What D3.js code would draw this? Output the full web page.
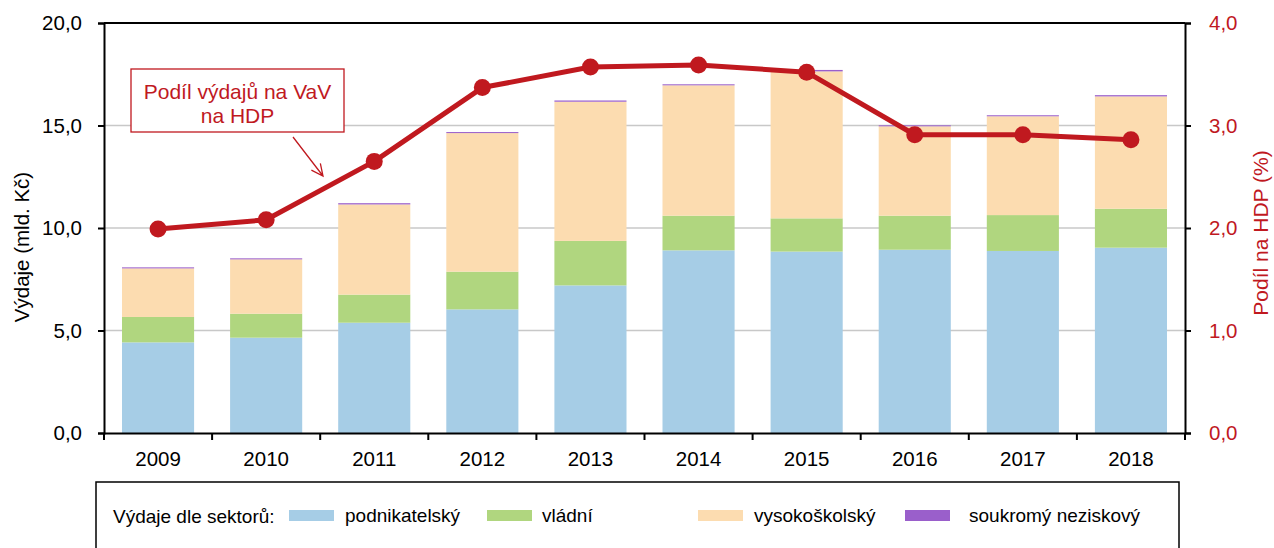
<!DOCTYPE html>
<html>
<head>
<meta charset="utf-8">
<script src="https://cdn.jsdelivr.net/npm/d3@7"></script>
<style>
  body { margin: 0; background: #fff; }
  svg { display: block; font-family: "Liberation Sans", Arial, sans-serif; }
</style>
</head>
<body>
<div id="chart"></div>
<script>
// Data
const years = ["2009", "2010", "2011", "2012", "2013", "2014", "2015", "2016", "2017", "2018"];
const podnikatelsky = [4.42, 4.65, 5.38, 6.03, 7.20, 8.91, 8.85, 8.94, 8.88, 9.04];
const vladni        = [1.24, 1.17, 1.37, 1.84, 2.17, 1.69, 1.62, 1.66, 1.75, 1.90];
const vysokoskolsky = [2.37, 2.65, 4.40, 6.76, 6.79, 6.36, 7.17, 4.36, 4.82, 5.48];
const soukromy      = [0.05, 0.05, 0.06, 0.05, 0.06, 0.05, 0.07, 0.05, 0.05, 0.06];
const podilHDP      = [1.99, 2.08, 2.65, 3.37, 3.57, 3.59, 3.52, 2.91, 2.91, 2.86];

const leftTicks = [0, 5, 10, 15, 20];
const rightTicks = [0, 1, 2, 3, 4];

const subgroups = ["podnikatelský", "vládní", "vysokoškolský", "soukromý neziskový"];
const series = [podnikatelsky, vladni, vysokoskolsky, soukromy];

const data = years.map((y, i) => {
  const row = { year: y };
  subgroups.forEach((k, j) => row[k] = series[j][i]);
  return row;
});

// Dimensions
const W = 1274, H = 548;
const margin = { top: 23, right: 89, bottom: 115, left: 104 },
      width = W - margin.left - margin.right,
      height = H - margin.top - margin.bottom;

const red = "#c0191f";
const color = d3.scaleOrdinal()
  .domain(subgroups)
  .range(["#a6cde6", "#b0d67f", "#fcdcb0", "#9a5fcb"]);

const root = d3.select("#chart").append("svg")
    .attr("width", W)
    .attr("height", H);

const svg = root.append("g")
    .attr("transform", `translate(${margin.left},${margin.top})`);

// Scales
const x = d3.scaleBand()
  .domain(years)
  .range([0, width])
  .paddingInner(0.333)
  .paddingOuter(0.1665);

const y = d3.scaleLinear().domain([0, 20]).range([height, 0]);
const yR = d3.scaleLinear().domain([0, 4]).range([height, 0]);

// gridlines
svg.append("g")
  .selectAll("line")
  .data(leftTicks.filter(d => d > 0 && d < 20))
  .enter().append("line")
    .attr("x1", 0).attr("x2", width)
    .attr("y1", d => y(d)).attr("y2", d => y(d))
    .attr("stroke", "#c8c8c8")
    .attr("stroke-width", 1.5);

// stacked bars
const stackedData = d3.stack().keys(subgroups)(data);

svg.append("g")
  .selectAll("g")
  .data(stackedData)
  .enter().append("g")
    .attr("fill", d => color(d.key))
  .selectAll("rect")
  .data(d => d)
  .enter().append("rect")
    .attr("x", d => x(d.data.year))
    .attr("y", d => y(d[1]))
    .attr("width", x.bandwidth())
    .attr("height", d => y(d[0]) - y(d[1]));

// top border
svg.append("line")
  .attr("x1", 0).attr("x2", width)
  .attr("y1", 0).attr("y2", 0)
  .attr("stroke", "#000").attr("stroke-width", 2);

// left axis
const fmt = d => d3.format(".1f")(d).replace(".", ",");
const yAxis = svg.append("g")
  .call(d3.axisLeft(y).tickValues(leftTicks).tickSize(6).tickPadding(16).tickFormat(fmt));
yAxis.select(".domain").attr("stroke-width", 2);
yAxis.selectAll(".tick line").attr("stroke-width", 2);
yAxis.selectAll("text").attr("font-size", 20.5).attr("fill", "#000")
  .style("font-family", "'Liberation Sans', Arial, sans-serif");

// right axis
const yRAxis = svg.append("g")
  .attr("transform", `translate(${width},0)`)
  .call(d3.axisRight(yR).tickValues(rightTicks).tickSize(6).tickPadding(18).tickFormat(fmt));
yRAxis.select(".domain").attr("stroke-width", 2);
yRAxis.selectAll(".tick line").attr("stroke-width", 2);
yRAxis.selectAll("text").attr("font-size", 20.5).attr("fill", red)
  .style("font-family", "'Liberation Sans', Arial, sans-serif");

// bottom axis
const xAxis = svg.append("g")
  .attr("transform", `translate(0,${height})`)
  .call(d3.axisBottom(x).tickSize(0).tickPadding(18));
xAxis.select(".domain").attr("stroke-width", 2);
xAxis.selectAll("text").attr("font-size", 20.5).attr("fill", "#000")
  .style("font-family", "'Liberation Sans', Arial, sans-serif");
// tick marks at band boundaries
xAxis.selectAll(".edge")
  .data(d3.range(years.length + 1))
  .enter().append("line")
    .attr("class", "edge")
    .attr("x1", i => i * x.step()).attr("x2", i => i * x.step())
    .attr("y1", 0).attr("y2", 7)
    .attr("stroke", "#000").attr("stroke-width", 2);

// axis titles
root.append("text")
  .attr("transform", `translate(29,${margin.top + height / 2 + 19}) rotate(-90)`)
  .attr("text-anchor", "middle")
  .attr("font-size", 20.5)
  .attr("fill", "#000")
  .text("Výdaje (mld. Kč)");

root.append("text")
  .attr("transform", `translate(1268,${margin.top + height / 2 + 5}) rotate(-90)`)
  .attr("text-anchor", "middle")
  .attr("font-size", 21)
  .attr("fill", red)
  .text("Podíl na HDP (%)");

// line for share of GDP
const cx = (d, i) => x(years[i]) + x.bandwidth() / 2;
svg.append("path")
  .datum(podilHDP)
  .attr("fill", "none")
  .attr("stroke", red)
  .attr("stroke-width", 5)
  .attr("stroke-linejoin", "round")
  .attr("d", d3.line().x(cx).y(d => yR(d)));

svg.append("g")
  .selectAll("circle")
  .data(podilHDP)
  .enter().append("circle")
    .attr("cx", cx)
    .attr("cy", d => yR(d))
    .attr("r", 8.5)
    .attr("fill", red);

// annotation
const note = svg.append("g");
note.append("rect")
  .attr("x", 27).attr("y", 46)
  .attr("width", 213).attr("height", 63)
  .attr("fill", "#fff")
  .attr("stroke", red).attr("stroke-width", 1.3);
note.append("text")
  .attr("x", 133.5).attr("y", 76)
  .attr("text-anchor", "middle")
  .attr("font-size", 21).attr("fill", red)
  .text("Podíl výdajů na VaV");
note.append("text")
  .attr("x", 133.5).attr("y", 100)
  .attr("text-anchor", "middle")
  .attr("font-size", 21).attr("fill", red)
  .text("na HDP");

// arrow pointing at the line
const ax0 = 189, ay0 = 114, ax1 = 219, ay1 = 153;
const ang = Math.atan2(ay1 - ay0, ax1 - ax0);
const hl = 13, spread = 0.45;
note.append("path")
  .attr("fill", "none")
  .attr("stroke", red)
  .attr("stroke-width", 1.3)
  .attr("d", `M${ax0},${ay0}L${ax1},${ay1}` +
    `M${ax1 - hl * Math.cos(ang - spread)},${ay1 - hl * Math.sin(ang - spread)}L${ax1},${ay1}` +
    `L${ax1 - hl * Math.cos(ang + spread)},${ay1 - hl * Math.sin(ang + spread)}`);

// legend box
const lg = root.append("g");
lg.append("rect")
  .attr("x", 96).attr("y", 482)
  .attr("width", 1083).attr("height", 80)
  .attr("fill", "#fff")
  .attr("stroke", "#000").attr("stroke-width", 1.5);
lg.append("text")
  .attr("x", 113).attr("y", 523)
  .attr("font-size", 19).attr("fill", "#000")
  .text("Výdaje dle sektorů:");

const legendX = [289, 487, 698, 905];
const legendTextX = [345, 542, 754, 969];
const items = lg.selectAll(".item")
  .data(subgroups)
  .enter().append("g")
    .attr("class", "item");
items.append("rect")
  .attr("x", (d, i) => legendX[i]).attr("y", 510)
  .attr("width", 45).attr("height", 11)
  .attr("fill", d => color(d));
items.append("text")
  .attr("x", (d, i) => legendTextX[i]).attr("y", 522)
  .attr("font-size", 19).attr("fill", "#000")
  .text(d => d);
</script>
</body>
</html>
